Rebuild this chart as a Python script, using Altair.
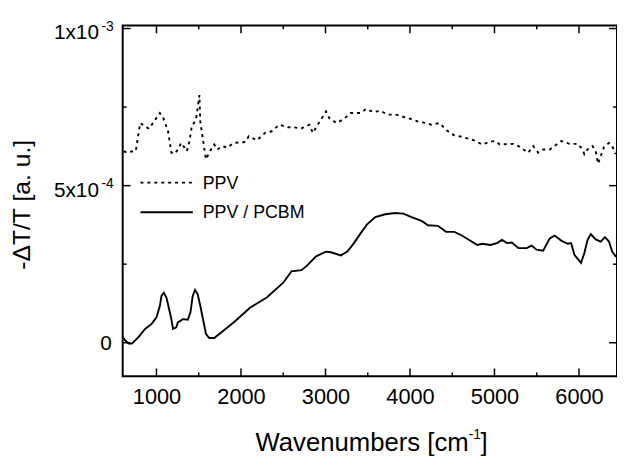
import altair as alt
import pandas as pd

# ---- data (y in units of 1e-4) ----
pcbm_x = [600, 632, 670, 709, 787, 865, 942, 1000, 1040, 1059, 1087, 1118, 1145, 1176, 1196, 1234, 1254, 1312, 1371, 1402,
          1429, 1456, 1488, 1519, 1558, 1585, 1624, 1683, 1721, 1916, 2110, 2305, 2500, 2597, 2714, 2772, 2889, 3006, 3064, 3181,
          3259, 3337, 3415, 3493, 3590, 3707, 3824, 3921, 4019, 4136, 4213, 4330, 4428, 4524, 4603, 4700, 4797, 4855, 4953, 5030,
          5089, 5147, 5205, 5284, 5381, 5439, 5498, 5576, 5654, 5712, 5790, 5868, 5907, 5946, 6024, 6063, 6101, 6140, 6198, 6257,
          6308, 6355, 6393, 6440]
pcbm_y = [0.18, 0.07, -0.03, -0.03, 0.18, 0.44, 0.60, 0.81, 1.17, 1.49, 1.59, 1.44, 1.12, 0.75, 0.44, 0.49, 0.65, 0.75, 0.73, 0.97,
          1.49, 1.68, 1.54, 1.17, 0.65, 0.28, 0.15, 0.15, 0.23, 0.65, 1.12, 1.44, 1.91, 2.27, 2.31, 2.43, 2.75, 2.90, 2.88, 2.78,
          2.90, 3.17, 3.48, 3.77, 4.00, 4.09, 4.13, 4.11, 4.00, 3.88, 3.74, 3.72, 3.53, 3.53, 3.43, 3.27, 3.11, 3.15, 3.11, 3.17,
          3.27, 3.17, 3.19, 3.01, 3.01, 3.09, 2.96, 2.93, 3.32, 3.41, 3.25, 3.15, 3.17, 2.80, 2.54, 2.85, 3.27, 3.46, 3.29, 3.22,
          3.36, 3.22, 2.90, 2.73]

ppv_x = [612, 650, 690, 755, 807, 865, 912, 1040, 1079, 1137, 1176, 1216, 1254, 1293, 1332, 1359, 1391, 1418, 1468, 1508,
         1518, 1585, 1624, 1683, 1721, 1780, 1838, 1916, 2052, 2092, 2189, 2285, 2364, 2454, 2539, 2617, 2714, 2811, 2850, 2909,
         3006, 3045, 3131, 3220, 3298, 3415, 3481, 3570, 3648, 3738, 3832, 3999, 4096, 4194, 4252, 4349, 4439, 4505, 4524, 4621,
         4758, 4855, 4933, 5011, 5062, 5225, 5284, 5342, 5400, 5458, 5517, 5576, 5654, 5790, 5887, 5984, 6043, 6063, 6101, 6160,
         6198, 6225, 6296, 6355, 6393, 6432]
ppv_y = [6.10, 6.05, 6.08, 6.10, 6.99, 6.89, 6.81, 7.31, 7.17, 6.73, 6.05, 6.02, 6.15, 6.36, 6.21, 6.10, 6.42, 6.89, 7.10, 7.88,
         7.04, 5.84, 6.05, 6.31, 6.15, 6.26, 6.21, 6.36, 6.39, 6.57, 6.44, 6.68, 6.73, 6.94, 6.86, 6.86, 6.82, 6.94, 6.68, 6.94,
         7.36, 7.15, 6.99, 7.13, 7.31, 7.31, 7.44, 7.34, 7.38, 7.26, 7.26, 7.13, 7.04, 6.99, 6.94, 6.99, 6.75, 6.63, 6.60, 6.55,
         6.44, 6.31, 6.39, 6.42, 6.31, 6.33, 6.26, 6.15, 6.05, 6.26, 6.05, 6.15, 6.15, 6.42, 6.33, 6.33, 6.15, 6.00, 6.15, 6.26,
         6.10, 5.70, 6.23, 6.36, 6.26, 6.00]

series_names = ["PPV", "PPV / PCBM"]
x_major = [1000, 2000, 3000, 4000, 5000, 6000]
x_minor = [1500, 2500, 3500, 4500, 5500]
y_major = [0.0, 5e-4, 1e-3]
y_minor = [2.5e-4, 7.5e-4]
ytick_main = ["0", "5x10", "1x10"]
ytick_sup = ["", "-4", "-3"]
x_title = ["Wavenumbers [cm", "-1", "]"]
y_title = "-\u0394T/T [a. u.]"

FONT = "Liberation Sans"
W, H = 500, 355
xs = alt.Scale(domain=[600, 6450], nice=False, zero=False)
ys = alt.Scale(domain=[-1.07e-4, 1.01e-3], nice=False, zero=False)

x_axis = alt.Axis(values=x_major, format="d", ticks=False, domain=False, grid=False,
                  labelFontSize=22, labelFont=FONT, labelColor="black",
                  labelPadding=10, title=None)
y_axis = alt.Axis(labels=False, ticks=False, domain=False, grid=False,
                  title=y_title, titleFont=FONT, titleFontSize=25,
                  titleFontWeight="normal", titleColor="black",
                  titleAngle=270, titleBaseline="alphabetic", titleAlign="center",
                  titleX=-94, titleY=181)


def X(field):
    return alt.X(field, scale=xs, axis=x_axis)


def Y(field):
    return alt.Y(field, scale=ys, axis=y_axis)


df_pcbm = pd.DataFrame({"x": pcbm_x, "y": [v * 1e-4 for v in pcbm_y]})
df_ppv = pd.DataFrame({"x": ppv_x, "y": [v * 1e-4 for v in ppv_y]})

pcbm = alt.Chart(df_pcbm).mark_line(color="black", strokeWidth=1.9, clip=True).encode(
    x=X("x:Q"), y=Y("y:Q"))
ppv = alt.Chart(df_ppv).mark_line(color="black", strokeWidth=1.9, strokeDash=[3, 4], clip=True).encode(
    x=X("x:Q"), y=Y("y:Q"))


# inward ticks
def xticks(vals, length):
    d = pd.DataFrame({"v": vals})
    bot = alt.Chart(d).mark_rule(color="black", strokeWidth=1.5).encode(
        x=X("v:Q"), y=alt.value(H), y2=alt.value(H - length))
    top = alt.Chart(d).mark_rule(color="black", strokeWidth=1.5).encode(
        x=X("v:Q"), y=alt.value(0), y2=alt.value(length))
    return [bot, top]


def yticks(vals, length):
    d = pd.DataFrame({"v": vals})
    left = alt.Chart(d).mark_rule(color="black", strokeWidth=1.5).encode(
        y=Y("v:Q"), x=alt.value(0), x2=alt.value(length))
    right = alt.Chart(d).mark_rule(color="black", strokeWidth=1.5).encode(
        y=Y("v:Q"), x=alt.value(W), x2=alt.value(W - length))
    return [left, right]


tick_layers = xticks(x_major, 8) + xticks(x_minor, 4) + yticks(y_major, 8) + yticks(y_minor, 4)

# y tick labels with superscript exponents
df_yl = pd.DataFrame({"v": y_major, "main": ytick_main, "sup": ytick_sup})
exp_main = alt.Chart(df_yl).transform_filter("datum.sup != ''").mark_text(
    align="right", baseline="alphabetic", dx=-24, dy=11, fontSize=21, font=FONT, color="black").encode(
    y=Y("v:Q"), x=alt.value(0), text="main:N")
exp_sup = alt.Chart(df_yl).transform_filter("datum.sup != ''").mark_text(
    align="right", baseline="alphabetic", dx=-9, dy=2, fontSize=14, font=FONT, color="black").encode(
    y=Y("v:Q"), x=alt.value(0), text="sup:N")
zero_lab = alt.Chart(df_yl).transform_filter("datum.sup == ''").mark_text(
    align="right", baseline="alphabetic", dx=-11, dy=7, fontSize=21, font=FONT, color="black").encode(
    y=Y("v:Q"), x=alt.value(0), text="main:N")

# x title with superscript
df_xt = pd.DataFrame({"a": [x_title[0]], "b": [x_title[1]], "c": [x_title[2]]})
xt1 = alt.Chart(df_xt).mark_text(align="right", baseline="alphabetic", fontSize=26, font=FONT, color="black").encode(
    x=alt.value(350), y=alt.value(430), text="a:N")
xt2 = alt.Chart(df_xt).mark_text(align="left", baseline="alphabetic", fontSize=14, font=FONT, color="black").encode(
    x=alt.value(350), y=alt.value(418), text="b:N")
xt3 = alt.Chart(df_xt).mark_text(align="left", baseline="alphabetic", fontSize=26, font=FONT, color="black").encode(
    x=alt.value(362), y=alt.value(430), text="c:N")

# legend
df_leg = pd.DataFrame({"name": series_names})
leg_ppv_line = alt.Chart(df_leg).transform_filter("datum.name == 'PPV'").mark_rule(
    color="black", strokeWidth=1.8, strokeDash=[3, 4]).encode(x=alt.value(18), x2=alt.value(70), y=alt.value(159))
leg_pcbm_line = alt.Chart(df_leg).transform_filter("datum.name == 'PPV / PCBM'").mark_rule(
    color="black", strokeWidth=1.8).encode(x=alt.value(18), x2=alt.value(71), y=alt.value(189))
leg_ppv_txt = alt.Chart(df_leg).transform_filter("datum.name == 'PPV'").mark_text(
    align="left", baseline="middle", fontSize=18, font=FONT, color="black").encode(
    x=alt.value(81), y=alt.value(160), text="name:N")
leg_pcbm_txt = alt.Chart(df_leg).transform_filter("datum.name == 'PPV / PCBM'").mark_text(
    align="left", baseline="middle", fontSize=18, font=FONT, color="black").encode(
    x=alt.value(81), y=alt.value(190), text="name:N")

chart = alt.layer(
    pcbm, ppv, *tick_layers, exp_main, exp_sup, zero_lab, xt1, xt2, xt3,
    leg_ppv_line, leg_pcbm_line, leg_ppv_txt, leg_pcbm_txt,
).properties(
    width=W, height=H,
    autosize=alt.AutoSizeParams(type="none"),
    padding={"left": 116, "top": 15, "right": 0, "bottom": 80},
).configure_view(stroke="black", strokeWidth=2)

chart.save("out.html", embed_options={"renderer": "svg", "actions": False})
